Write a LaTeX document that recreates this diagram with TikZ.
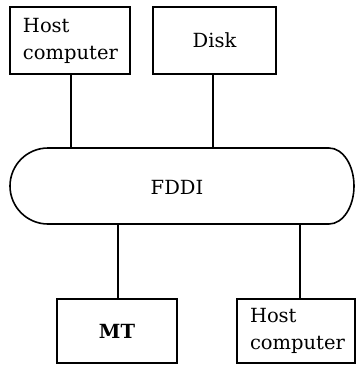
\documentclass[tikz,border=0pt]{standalone}
\usepackage{fontspec}
\setmainfont{DejaVu Serif}
\begin{document}
\begin{tikzpicture}[x=1pt,y=-1pt,
  box/.style={draw,line width=1.6pt,inner sep=0pt,font=\fontsize{19.5}{27}\selectfont},
  hostbox/.style={box,align=left,text width=#1},
  link/.style={line width=1.3pt},
  lbl/.style={font=\fontsize{19.5}{27}\selectfont}]
\useasboundingbox (0,0) rectangle (356,365);
% boxes
\node[hostbox=94pt,minimum width=120pt,minimum height=67pt] (h1) at (70,40.5) {Host\\computer};
\node[box,minimum width=123pt,minimum height=67pt] (disk) at (214.5,40.5) {Disk};
\node[box,minimum width=120pt,minimum height=64pt,font=\fontsize{19.5}{27}\selectfont\bfseries] (mt) at (117,331) {MT};
\node[hostbox=92pt,minimum width=118pt,minimum height=64pt] (h2) at (296,331) {Host\\computer};
% FDDI ring
\draw[line width=1.6pt] (48,148) -- (329,148)
  arc[start angle=90,end angle=-90,x radius=25,y radius=-38] -- (48,224)
  arc[start angle=270,end angle=90,x radius=38,y radius=-38] -- cycle;
\node[lbl] (fddi) at (177,187) {FDDI};
\coordinate (ftop) at (0,148);
\coordinate (fbot) at (0,224);
% connectors
\draw[link] ([xshift=1pt]h1.south) -- ([xshift=1pt]h1.south |- ftop);
\draw[link] ([xshift=-1.5pt]disk.south) -- ([xshift=-1.5pt]disk.south |- ftop);
\draw[link] ([xshift=1pt]mt.north) -- ([xshift=1pt]mt.north |- fbot);
\draw[link] ([xshift=4pt]h2.north) -- ([xshift=4pt]h2.north |- fbot);
\end{tikzpicture}
\end{document}
